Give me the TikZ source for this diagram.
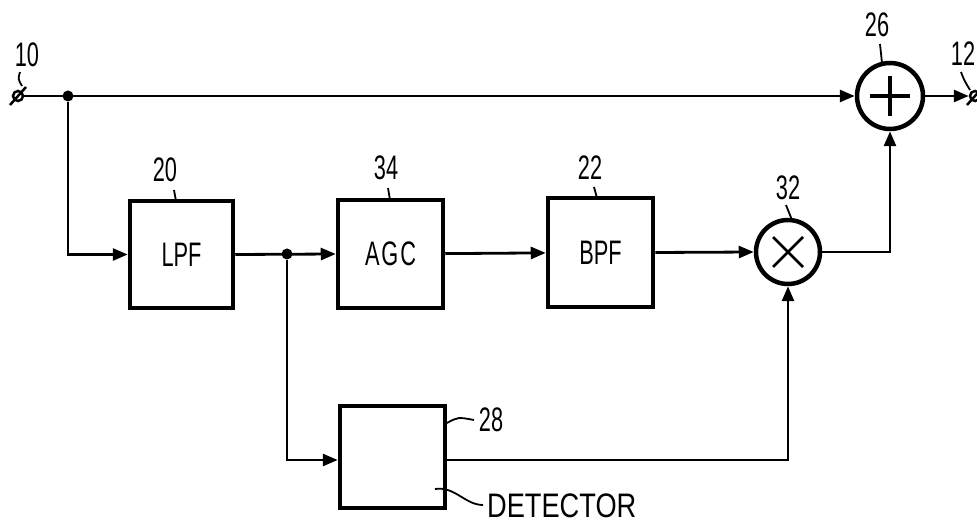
\documentclass[tikz,border=0pt]{standalone}
\usepackage{graphicx}
\usepackage{fontspec}
\setmainfont{Liberation Sans}
\usetikzlibrary{arrows.meta,calc}
\newcommand{\lbl}[1]{\scalebox{0.64}[1]{#1}}
\begin{document}
\begin{tikzpicture}[x=1pt,y=-1pt,
  blk/.style={draw,line width=4.5pt,rectangle,inner sep=0pt,font=\fontsize{34}{34}\selectfont},
  sumc/.style={draw,line width=4.5pt,circle,inner sep=0pt},
  wire/.style={line width=2.8pt},
  arr/.style={wire,-{Triangle[length=15pt,width=12pt]}},
  dotn/.style={circle,fill,inner sep=0pt,minimum size=11pt},
  term/.style={circle,draw,line width=2.5pt,inner sep=0pt,minimum size=10pt},
  num/.style={font=\fontsize{34}{34}\selectfont,inner sep=0pt},
  lead/.style={line width=1.8pt}]
\useasboundingbox (0,0) rectangle (977,526);

% terminals and junctions
\node[term] (t10) at (18,96) {};
\draw[line width=2.5pt] (10,105) -- (26,87);
\node[term] (t12) at (975,96) {};
\draw[line width=2.5pt] (967,105) -- (983,87);
\node[dotn] (j1) at (68,96) {};
\node[dotn] (j2) at (287,254) {};

% blocks
\node[blk,minimum width=103pt,minimum height=107pt] (lpf) at (181.5,254.5) {\lbl{LPF}};
\node[blk,minimum width=105pt,minimum height=108pt] (agc) at (390.5,254) {\lbl{A\kern3pt G\kern3pt C}};
\node[blk,minimum width=105pt,minimum height=109pt] (bpf) at (600.5,252.5) {\lbl{BPF}};
\node[blk,minimum width=105pt,minimum height=102pt] (det) at (392.5,457) {};
\node[sumc,minimum size=64pt] (mult) at (788,252) {};
\node[sumc,minimum size=66pt] (add) at (890,96) {};

% symbols in circles
\draw[line width=2.5pt] ($(mult)+(-15,-15)$) -- ($(mult)+(15,15)$);
\draw[line width=2.5pt] ($(mult)+(-15,15)$) -- ($(mult)+(15,-15)$);
\draw[line width=3.5pt] ($(add)+(-20,0)$) -- ($(add)+(20,0)$);
\draw[line width=3.5pt] ($(add)+(0,-20)$) -- ($(add)+(0,20)$);

% connectors
\draw[arr] (t10) -- (add);
\draw[arr] (j1) |- (lpf.west);
\draw[arr] (lpf.east) -- (agc.west);
\draw[arr] (j2) |- ($(det.west)+(0,3)$);
\draw[arr] (agc) -- (bpf);
\draw[arr] (bpf.east) -- (mult.west);
\draw[arr] (mult.east) -| (add.south);
\draw[arr] ($(det.east)+(0,3)$) -| (mult.south);
\draw[arr] (add.east) -- (t12);

% labels
\node[num] (n10) at (27,55) {\lbl{10}};
\draw[lead] (20,72) .. controls (18,79) .. (22,86);
\node[num] (n12) at (963,54) {\lbl{12}};
\draw[lead] (961,72) .. controls (964,80) .. (970,90);
\node[num] (n20) at (165,170) {\lbl{20}};
\draw[lead] (174,190) -- (176,201);
\node[num] (n34) at (386,168) {\lbl{34}};
\draw[lead] (388,188) -- (390,200);
\node[num] (n22) at (590,168) {\lbl{22}};
\draw[lead] (594,187) -- (597,198);
\node[num] (n32) at (788,188) {\lbl{32}};
\draw[lead] (786,205) -- (792,220);
\node[num] (n26) at (877,25) {\lbl{26}};
\draw[lead] (880,44) -- (882,63);
\node[num] (n28) at (491,420) {\lbl{28}};
\draw[lead] (447,423) .. controls (458,417) .. (474,420);
\node[num,anchor=west] (ndet) at (487,506) {\scalebox{0.8}[1]{DETECTOR}};
\draw[lead] (435,489) .. controls (455,486) and (465,505) .. (483,505);
\end{tikzpicture}
\end{document}
